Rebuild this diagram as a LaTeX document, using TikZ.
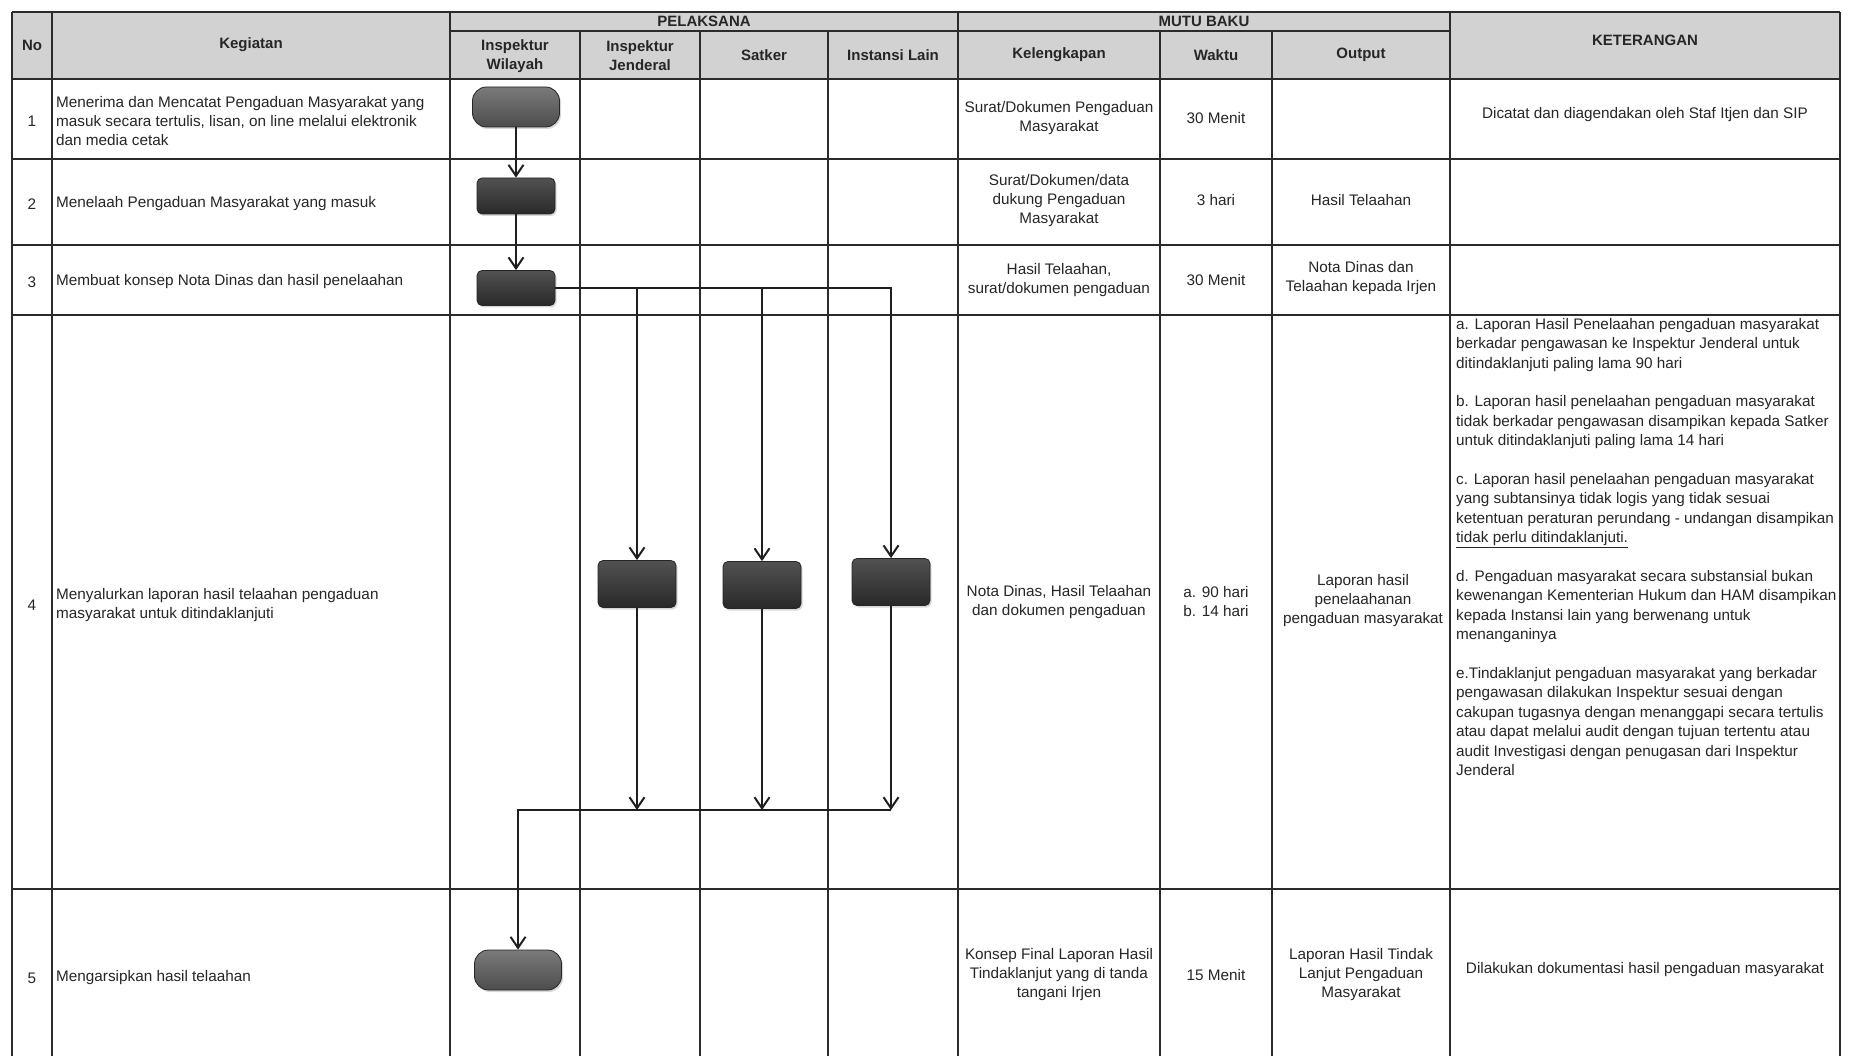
\documentclass[tikz,border=0pt]{standalone}
\usepackage{fontspec}
\setmainfont{Liberation Sans}
\usetikzlibrary{arrows.meta,shadows,calc}
\definecolor{ink}{HTML}{262626}
\definecolor{hdr}{HTML}{D2D2D2}
\definecolor{grid}{HTML}{2B2B2B}
\begin{document}
\begin{tikzpicture}[x=1pt,y=-1pt,
  every node/.style={inner sep=0pt, text=ink, font=\fontsize{15.3}{19}\selectfont},
  hd/.style={font=\fontsize{15}{19}\selectfont\bfseries, align=center},
  cc/.style={align=center},
  lc/.style={align=left, anchor=west},
  proc/.style={draw=black!85, line width=0.8pt, rounded corners=5pt, minimum width=78pt, minimum height=36pt, top color=black!68, bottom color=black!84, drop shadow={opacity=0.3, shadow xshift=1.5pt, shadow yshift=-2pt}},
  term/.style={proc, rounded corners=14pt, minimum width=87pt, minimum height=40pt, top color=black!52, bottom color=black!70},
  flow/.style={draw=black!88, line width=2pt, -{Straight Barb[length=11pt,width=15pt]}},
  gline/.style={draw=grid, line width=1.5pt},
  hline/.style={draw=grid, line width=2.8pt}
]
\useasboundingbox (0,0) rectangle (1858,1056);
\fill[white] (0,0) rectangle (1858,1056);
% header background
\fill[hdr] (12,12) rectangle (1840,79);
% grid
\draw[hline] (12,12) -- (1840,12);
\draw[hline] (450,31) -- (1450,31);
\draw[hline] (12,79) -- (1840,79);
\foreach \y in {159,245,315,889} \draw[gline, line width=2pt] (12,\y) -- (1840,\y);
\foreach \x in {12,52,450,958,1450,1840} \draw[gline] (\x,12) -- (\x,1056);
\foreach \x in {580,700,828,1160,1272} \draw[gline] (\x,31) -- (\x,1056);
\foreach \x in {12,52,450,958,1450,1840} \draw[gline, line width=2.6pt] (\x,12) -- (\x,79);
\foreach \x in {580,700,828,1160,1272} \draw[gline, line width=2.6pt] (\x,31) -- (\x,79);

% header texts
\node[hd] (hno) at (32,45) {No};
\node[hd] (hkeg) at (251,45) {Kegiatan};
\node[hd] (hpel) at (704,21) {PELAKSANA};
\node[hd] (hmutu) at (1204,21) {MUTU BAKU};
\node[hd] (hket) at (1645,40) {KETERANGAN};
\node[hd] (hiw) at (515,56) {Inspektur\\Wilayah};
\node[hd] (hij) at (640,56) {Inspektur\\Jenderal};
\node[hd] (hsat) at (764,55) {Satker};
\node[hd] (hil) at (893,55) {Instansi Lain};
\node[hd] (hkel) at (1059,55) {Kelengkapan};
\node[hd] (hwak) at (1216,55) {Waktu};
\node[hd] (hout) at (1361,55) {Output};

% row 1
\node (n1) at (32,121) {1};
\node[lc] (k1) at (56,121) {Menerima dan Mencatat Pengaduan Masyarakat yang\\masuk secara tertulis, lisan, on line melalui elektronik\\dan media cetak};
\node[cc] (kel1) at (1059,118) {Surat/Dokumen Pengaduan\\Masyarakat};
\node[cc] (w1) at (1216,118) {30 Menit};
\node[cc] (ket1) at (1645,115) {Dicatat dan diagendakan oleh Staf Itjen dan SIP};

% row 2
\node (n2) at (32,204) {2};
\node[lc] (k2) at (56,204) {Menelaah Pengaduan Masyarakat yang masuk};
\node[cc] (kel2) at (1059,201) {Surat/Dokumen/data\\dukung Pengaduan\\Masyarakat};
\node[cc] (w2) at (1216,200) {3 hari};
\node[cc] (o2) at (1361,200) {Hasil Telaahan};

% row 3
\node (n3) at (32,282) {3};
\node[lc] (k3) at (56,282) {Membuat konsep Nota Dinas dan hasil penelaahan};
\node[cc] (kel3) at (1059,280) {Hasil Telaahan,\\surat/dokumen pengaduan};
\node[cc] (w3) at (1216,280) {30 Menit};
\node[cc] (o3) at (1361,278) {Nota Dinas dan\\Telaahan kepada Irjen};

% row 4
\node (n4) at (32,605) {4};
\node[lc] (k4) at (56,605) {Menyalurkan laporan hasil telaahan pengaduan\\masyarakat untuk ditindaklanjuti};
\node[cc] (kel4) at (1059,602) {Nota Dinas, Hasil Telaahan\\dan dokumen pengaduan};
\node[align=left] (w4) at (1216,602) {a. 90 hari\\b. 14 hari};
\node[cc] (o4) at (1363,601) {Laporan hasil\\penelaahanan\\pengaduan masyarakat};
\node[align=left, anchor=north west, font=\fontsize{15.3}{19.4}\selectfont] (ket4) at (1456,318) {a. Laporan Hasil Penelaahan pengaduan masyarakat\\berkadar pengawasan ke Inspektur Jenderal untuk\\ditindaklanjuti paling lama 90 hari\\[19.4pt]b. Laporan hasil penelaahan pengaduan masyarakat\\tidak berkadar pengawasan disampikan kepada Satker\\untuk ditindaklanjuti paling lama 14 hari\\[19.4pt]c. Laporan hasil penelaahan pengaduan masyarakat\\yang subtansinya tidak logis yang tidak sesuai\\ketentuan peraturan perundang - undangan disampikan\\\underline{tidak perlu ditindaklanjuti.}\\[19.4pt]d. Pengaduan masyarakat secara substansial bukan\\kewenangan Kementerian Hukum dan HAM disampikan\\kepada Instansi lain yang berwenang untuk\\menanganinya\\[19.4pt]e.Tindaklanjut pengaduan masyarakat yang berkadar\\pengawasan dilakukan Inspektur sesuai dengan\\cakupan tugasnya dengan menanggapi secara tertulis\\atau dapat melalui audit dengan tujuan tertentu atau\\audit Investigasi dengan penugasan dari Inspektur\\Jenderal};

% row 5
\node (n5) at (32,978) {5};
\node[lc] (k5) at (56,978) {Mengarsipkan hasil telaahan};
\node[cc] (kel5) at (1059,975) {Konsep Final Laporan Hasil\\Tindaklanjut yang di tanda\\tangani Irjen};
\node[cc] (w5) at (1216,975) {15 Menit};
\node[cc] (o5) at (1361,975) {Laporan Hasil Tindak\\Lanjut Pengaduan\\Masyarakat};
\node[cc] (ket5) at (1645,970) {Dilakukan dokumentasi hasil pengaduan masyarakat};

% flow shapes
\node[term] (s1) at (516,107) {};
\node[proc] (s2) at (516,196) {};
\node[proc, minimum height=35pt] (s3) at (516,288) {};
\node[proc, minimum height=47pt] (ij) at (637,584) {};
\node[proc, minimum height=47pt] (sat) at (762,585) {};
\node[proc, minimum height=47pt] (il) at (891,582) {};
\node[term] (s5) at (518,970) {};
\coordinate (m) at (518,810);

% connectors
\draw[flow] (s1) -- (s2);
\draw[flow] (s2) -- (s3);
\draw[flow] (s3.east) -| (il);
\draw[flow] (s3.east -| ij.north) -- (ij);
\draw[flow] (s3.east -| sat.north) -- (sat);
\draw[flow] (ij) -- (ij.south |- m);
\draw[flow] (sat) -- (sat.south |- m);
\draw[flow] (il) -- (il.south |- m);
\draw[flow] (il.south |- m) -- (m) -- (s5);
\end{tikzpicture}
\end{document}
